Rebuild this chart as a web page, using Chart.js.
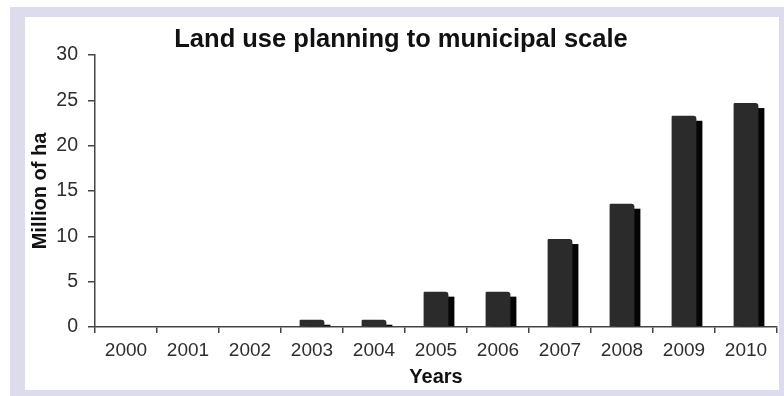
<!DOCTYPE html>
<html>
<head>
<meta charset="utf-8">
<script src="https://cdn.jsdelivr.net/npm/chart.js@4"></script>
<style>
  html, body { margin: 0; padding: 0; background: #fff; }
  body { width: 784px; height: 396px; position: relative; overflow: hidden; }
  #frame { position: absolute; left: 10px; top: 7px; width: 774px; height: 389px; background: #dcdcec; }
  #panel { position: absolute; left: 15px; top: 10px; width: 754px; height: 373px; background: #fff; }
  canvas { display: block; }
</style>
</head>
<body>
<div id="frame">
  <div id="panel"><canvas id="landChart" width="754" height="373"></canvas></div>
</div>
<script>
// values (million ha)
const years = ['2000', '2001', '2002', '2003', '2004', '2005', '2006', '2007', '2008', '2009', '2010'];
const hectares = [0, 0, 0, 0.8, 0.8, 3.9, 3.9, 9.7, 13.6, 23.3, 24.7];
const yTicks = [0, 5, 10, 15, 20, 25, 30];

const FONT = '"Liberation Sans", Arial, sans-serif';

// dark drop shadow behind each bar, offset right and down
const barShadow = {
  id: 'barShadow',
  beforeDatasetsDraw(chart) {
    const ctx = chart.ctx;
    const meta = chart.getDatasetMeta(0);
    ctx.save();
    ctx.fillStyle = '#050505';
    meta.data.forEach(bar => {
      const h = bar.base - bar.y - 5;
      if (h > 0) {
        ctx.fillRect(bar.x - bar.width / 2 + 6, bar.y + 5, bar.width, h);
      }
    });
    ctx.restore();
  }
};

new Chart(document.getElementById('landChart').getContext('2d'), {
  type: 'bar',
  data: {
    labels: years,
    datasets: [{
      data: hectares,
      backgroundColor: '#2b2b2b',
      borderWidth: 0,
      borderRadius: { topLeft: 1, topRight: 3 },
      borderSkipped: 'bottom',
      barPercentage: 0.4,
      categoryPercentage: 1.0
    }]
  },
  options: {
    responsive: false,
    animation: false,
    layout: { padding: { left: 0, right: 2, top: 0, bottom: 0 } },
    plugins: {
      legend: { display: false },
      tooltip: { enabled: false },
      title: {
        display: true,
        text: 'Land use planning to municipal scale',
        color: '#111',
        font: { family: FONT, size: 25.5, weight: 'bold', lineHeight: 1.02 },
        padding: { top: 10, bottom: 2 }
      }
    },
    scales: {
      x: {
        grid: { offset: true, drawOnChartArea: false, drawTicks: true, tickLength: 6, color: '#444', lineWidth: 1.5 },
        border: { display: true, color: '#444', width: 1.5 },
        ticks: { color: '#2e2e2e', font: { family: FONT, size: 19 }, padding: 6 },
        title: {
          display: true,
          text: 'Years',
          color: '#111',
          font: { family: FONT, size: 20, weight: 'bold', lineHeight: 1.3 },
          padding: 0
        },
        afterFit(scale) { scale.height = 63; }
      },
      y: {
        min: 0,
        max: 30,
        afterBuildTicks(scale) { scale.ticks = yTicks.map(v => ({ value: v })); },
        grid: { drawOnChartArea: false, drawTicks: true, tickLength: 7, color: '#444', lineWidth: 1.5 },
        border: { display: true, color: '#444', width: 1.5 },
        ticks: { color: '#2e2e2e', font: { family: FONT, size: 19.5 }, padding: 10 },
        title: {
          display: true,
          text: 'Million of ha',
          color: '#111',
          font: { family: FONT, size: 20, weight: 'bold', lineHeight: 1.5 },
          padding: 0
        },
        afterFit(scale) { scale.width = 70; }
      }
    }
  },
  plugins: [barShadow]
});
</script>
</body>
</html>
